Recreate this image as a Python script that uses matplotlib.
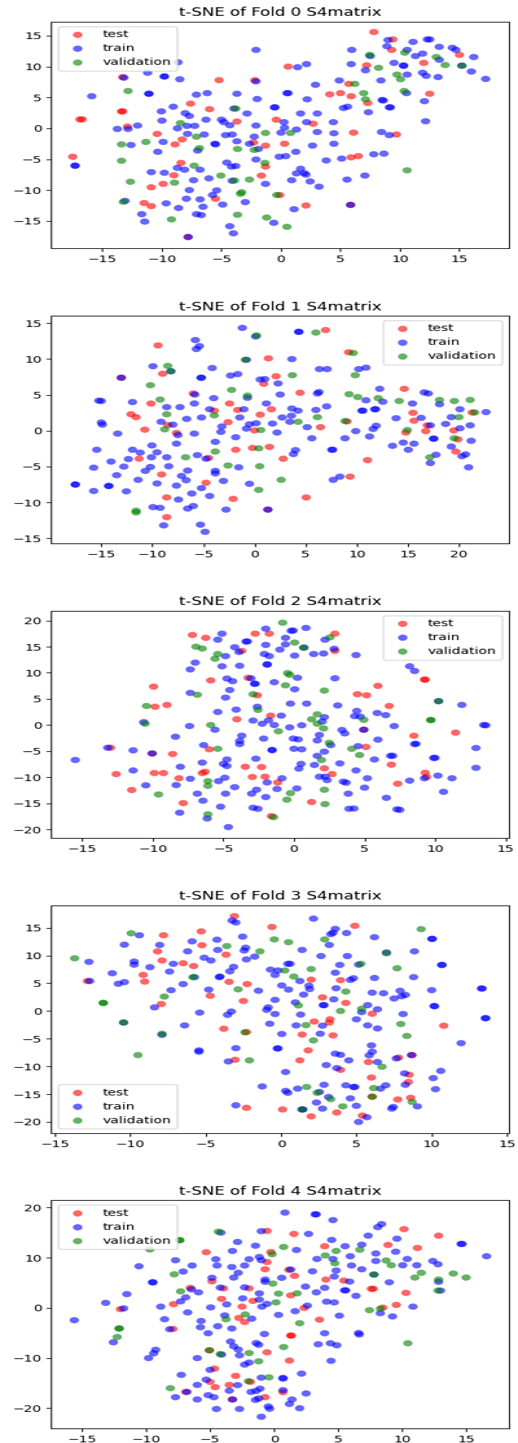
import matplotlib
matplotlib.use('Agg')
import matplotlib.pyplot as plt
import numpy as np
from PIL import Image

fold0_test = [(7.8,15.6),(9.4,14.4),(9.3,12.7),(15.0,11.9),(12.0,10.6),(7.2,10.2),(0.6,10.0),(-5.2,7.8),(-2.2,7.8),(-13.3,8.3),(5.7,7.2),(4.1,5.5),(5.0,5.7),(5.9,5.2),(12.5,5.6),(7.3,4.1),(-7.6,4.0),(-6.0,3.1),(-13.4,2.75),(-13.3,2.75),(-16.9,1.45),(-16.7,1.45),(-0.4,1.4),(-3.7,1.1),(2.7,0.75),(-12.9,0.3),(-10.4,-0.9),(6.1,-0.7),(9.7,-1.0),(-8.3,-1.8),(-8.9,-2.6),(-2.3,-2.3),(-1.3,-2.8),(0.3,-2.5),(-17.5,-4.6),(5.9,-4.7),(6.5,-4.5),(-8.4,-5.6),(-1.3,-6.2),(-1.65,-7.65),(-9.0,-7.6),(-9.9,-9.0),(-10.9,-9.55),(-0.1,-10.8),(-5.5,-11.4),(-11.5,-12.1),(-10.9,-12.6),(2.1,-12.5),(-7.8,-17.6),(5.85,-12.4)]
fold0_train = [(9.0,14.3),(8.9,13.3),(11.1,14.0),(12.3,14.4),(12.5,14.4),(13.3,13.2),(14.4,13.05),(14.7,12.7),(10.6,12.7),(5.95,12.7),(-2.1,12.7),(11.9,12.1),(11.3,11.7),(16.2,11.55),(7.5,11.7),(13.3,11.1),(9.5,10.6),(10.3,10.1),(10.3,10.2),(15.2,10.15),(5.9,10.4),(2.15,10.4),(1.4,9.9),(16.0,9.2),(7.1,9.4),(11.9,9.0),(12.2,8.5),(10.6,8.7),(13.2,8.3),(17.2,8.0),(-8.65,10.7),(-11.2,9.0),(-9.8,8.4),(-9.8,8.4),(-8.5,7.95),(-13.2,8.2),(8.4,7.75),(4.9,7.75),(-2.1,7.6),(2.9,7.05),(-15.9,5.2),(-11.1,5.6),(-11.1,5.6),(-7.1,5.45),(-6.2,5.7),(-3.7,5.6),(0.5,5.7),(0.6,5.7),(-2.0,4.75),(2.2,4.7),(10.55,5.7),(8.5,4.6),(8.6,4.5),(5.6,3.5),(5.25,3.3),(9.1,3.4),(9.2,3.4),(7.35,2.6),(12.05,4.4),(-9.05,3.5),(-10.05,2.75),(-0.55,3.4),(-0.5,3.4),(-3.95,3.2),(-2.85,2.4),(1.65,2.4),(3.05,2.4),(-8.05,2.45),(-7.7,2.0),(-10.0,1.25),(-6.3,1.4),(-5.0,1.4),(-4.8,1.0),(-4.3,0.5),(0.25,1.0),(2.15,1.0),(4.4,1.0),(12.15,1.15),(-8.7,0),(-7.9,0.4),(-7.25,0.4),(-12.05,0.45),(-13.75,-0.1),(-12.85,-0.1),(-2.1,0.45),(0.3,0.1),(1.3,-0.2),(0,-0.7),(3.05,-0.6),(4.45,-0.8),(8.45,-0.6),(9.1,-1.1),(-7.85,-0.9),(-6.45,-1.0),(-4.65,-1.1),(-4.1,-1.0),(-2.25,-1.35),(-9.9,-2.2),(-12.6,-2.7),(-3.7,-2.1),(-5.55,-2.5),(-5.5,-2.6),(-2.65,-2.5),(2.65,-2.8),(4.45,-2.5),(-1.9,-3.35),(-7.0,-3.6),(-10.35,-3.8),(1.25,-3.8),(-0.15,-4.6),(0.4,-4.5),(7.8,-4.2),(8.65,-4.1),(3.8,-5.2),(5.1,-4.9),(-2.1,-5.05),(-4.55,-5.55),(-4.15,-6.2),(-3.8,-6.1),(-17.3,-6.05),(-17.3,-6.05),(-8.7,-6.4),(-8.1,-6.7),(-6.8,-6.7),(-10.9,-7.1),(-9.8,-7.2),(1.65,-6.55),(1.3,-7.3),(1.95,-7.25),(2.1,-7.5),(7.05,-7.65),(-6.05,-8.1),(-7.35,-8.4),(-4.1,-8.5),(0.9,-8.4),(2.45,-8.6),(5.55,-8.3),(-1.3,-9.0),(3.2,-9.45),(-7.7,-10.0),(-5.4,-10.05),(-5.75,-10.8),(-7.95,-11.4),(-6.8,-11.5),(-13.1,-11.75),(-9.65,-12.15),(-4.9,-12.35),(-3.0,-11.95),(-8.6,-12.9),(-6.55,-12.7),(1.1,-13.1),(-11.7,-13.9),(-7.1,-13.9),(-6.7,-14.05),(-11.45,-15.1),(-0.6,-15.3),(-4.3,-15.85),(-4.0,-17.0),(-7.8,-17.6),(5.85,-12.4)]
fold0_val = [(7.45,11.9),(10.4,12.25),(13.05,11.55),(13.8,10.25),(15.2,10.15),(8.2,9.8),(9.75,8.7),(10.05,7.95),(6.2,7.2),(10.35,6.05),(6.95,5.7),(7.1,4.7),(-12.85,6.05),(-3.8,3.2),(-8.45,0.85),(-1.3,-0.75),(0.8,-0.75),(-7.1,-1.35),(-13.4,-2.6),(-11.35,-2.2),(-6.85,-3.2),(-3.65,-3.35),(-2.25,-3.5),(-13.4,-5.25),(-1.35,-5.6),(-7.3,-6.05),(-5.05,-7.65),(-12.65,-8.65),(-8.95,-8.8),(-3.9,-8.45),(-2.65,-8.3),(-3.3,-10.35),(-3.4,-10.6),(-0.35,-10.8),(-13.25,-11.9),(-3.65,-14.0),(-1.2,-14.45),(-9.2,-14.75),(0.5,-15.95),(10.6,-6.8)]

fold1_test = [(6.95,14.05),(-9.45,11.9),(9.2,10.95),(1.35,10.1),(-9.0,7.95),(-13.05,7.4),(2.1,7.6),(0.9,6.55),(-6.0,5.2),(4.45,5.3),(14.65,5.85),(-10.15,3.8),(-2.45,3.8),(-3.95,2.8),(-1.65,2.9),(1.65,3.0),(0.55,2.25),(-12.1,2.3),(-11.6,1.9),(15.5,2.5),(15.6,1.4),(21.3,2.55),(-2.6,1.2),(-8.5,0.8),(6.45,0.5),(-10.75,0.15),(0,0.05),(16.9,0.75),(9.05,1.3),(-7.65,-0.3),(14.8,-0.25),(16.75,-0.05),(19.5,0.05),(19.9,-1.2),(-0.2,-2.4),(1.45,-2.25),(-1.85,-2.65),(19.7,-2.9),(-11.3,-3.9),(-4.5,-3.8),(2.8,-3.9),(11.05,-4.1),(-9.1,-6.1),(-4.75,-7.25),(9.35,-6.4),(-8.6,-9.3),(-2.1,-9.5),(5.05,-9.3),(-8.6,-12.05),(1.3,-11.0)]
fold1_train = [(-1.2,14.35),(4.3,13.8),(4.35,13.8),(0.1,13.15),(-5.8,12.65),(-5.4,11.8),(-5.7,11.4),(3.65,10.0),(-0.8,9.9),(-9.95,9.0),(-4.15,8.75),(6.35,8.6),(7.1,8.6),(10.2,8.6),(10.9,8.8),(-8.2,8.3),(-2.35,7.7),(-1.65,7.9),(-5.25,7.4),(-5.2,7.4),(-13.05,7.4),(0.55,7.15),(1.0,7.2),(2.3,6.6),(12.25,5.85),(16.6,5.35),(17.0,5.2),(-15.25,4.2),(-15.0,4.15),(-5.85,5.05),(2.5,5.05),(-0.7,4.6),(-4.0,4.55),(6.15,5.2),(6.3,5.4),(-11.95,4.0),(10.9,4.25),(12.55,4.05),(-5.9,3.8),(1.15,3.8),(15.45,3.8),(18.1,3.7),(-8.6,3.3),(-7.3,3.3),(7.05,3.4),(-4.4,3.0),(-1.05,3.0),(3.65,3.1),(4.25,2.8),(6.0,2.9),(10.5,2.8),(10.6,2.8),(11.75,3.0),(11.85,3.0),(20.1,3.0),(22.65,2.6),(3.6,2.1),(2.7,1.85),(-1.45,1.85),(-5.2,1.85),(-6.65,1.65),(13.85,1.75),(16.3,1.8),(19.25,1.9),(-15.0,1.15),(-14.9,0.85),(-9.15,1.25),(-8.0,0.85),(0.15,1.05),(-0.5,0.9),(1.75,1.0),(3.45,1.25),(18.7,0.95),(21.1,0.75),(-3.2,0.6),(-0.8,0.3),(5.15,0.5),(11.9,0.7),(11.6,0.25),(17.2,0.75),(20.1,0.35),(-13.4,-0.4),(-7.5,-0.6),(-5.9,-0.4),(-3.3,-0.15),(2.2,-0.25),(9.9,-0.05),(-1.85,-0.9),(5.6,-1.05),(8.85,-1.05),(11.25,-0.8),(17.5,-1.1),(17.55,-1.1),(-3.85,-1.55),(-7.65,-1.8),(-10.05,-2.05),(21.2,-1.4),(14.55,-1.65),(15.6,-1.8),(13.5,-2.1),(19.25,-2.2),(-15.45,-2.65),(-11.95,-2.65),(-11.2,-3.05),(-9.55,-3.0),(4.0,-2.7),(3.8,-3.25),(7.55,-2.65),(7.65,-2.65),(15.05,-2.65),(-5.6,-3.4),(17.75,-3.35),(20.3,-3.55),(20.65,-3.3),(-14.05,-4.3),(-12.35,-3.95),(-10.1,-3.7),(-8.6,-3.7),(-4.75,-3.9),(17.2,-4.5),(-8.4,-4.95),(-12.8,-5.0),(-15.75,-5.15),(-10.2,-5.05),(-1.55,-5.1),(20.95,-5.1),(-10.7,-5.6),(-6.55,-5.55),(-3.85,-5.6),(-3.85,-5.95),(-13.5,-6.2),(-7.15,-6.3),(8.35,-6.4),(7.7,-6.85),(-11.4,-6.85),(-6.7,-6.9),(-3.05,-7.0),(-9.55,-7.35),(-17.55,-7.5),(-17.55,-7.5),(-14.3,-7.7),(-14.25,-7.7),(-7.65,-7.65),(-0.5,-7.4),(-5.2,-8.0),(-15.75,-8.4),(-12.55,-8.45),(-6.15,-8.75),(-4.4,-9.1),(-7.45,-9.6),(-9.95,-10.65),(-9.25,-10.75),(-6.0,-10.5),(-6.55,-10.85),(-2.8,-11.0),(1.3,-11.0),(-8.9,-13.2),(-5.3,-13.1),(-4.85,-14.1)]
fold1_val = [(0.2,13.3),(6.0,13.7),(-8.5,9.05),(9.65,10.85),(-0.9,9.9),(-8.2,8.3),(3.7,7.75),(9.85,7.75),(-10.2,6.35),(-2.25,5.7),(-0.7,4.9),(9.25,5.1),(10.1,4.7),(12.1,4.55),(14.15,4.15),(18.1,4.3),(19.55,4.15),(21.1,4.3),(-9.25,4.35),(-8.6,2.3),(-3.95,2.15),(6.15,1.9),(20.0,1.9),(21.55,2.55),(4.25,1.25),(8.85,1.35),(-8.8,0.2),(0.6,0.1),(14.95,0.1),(19.55,-1.05),(-3.85,-2.9),(0.4,-2.45),(-6.75,-3.7),(17.15,-3.7),(-2.6,-4.85),(0.5,-4.95),(2.6,-6.85),(0.4,-8.25),(-11.6,-11.15),(-11.6,-11.4)]

fold2_test = [(-7.2,17.25),(-6.25,16.7),(-2.75,17.5),(-1.75,17.5),(2.9,17.5),(-3.7,14.2),(2.9,14.2),(-3.25,9.05),(-5.9,8.55),(9.25,8.7),(9.3,8.7),(-9.95,7.35),(5.95,7.5),(-2.6,5.7),(4.5,5.9),(5.15,5.7),(-9.85,3.5),(-9.0,3.85),(6.75,3.65),(-4.05,1.1),(-1.65,1.8),(11.45,-1.45),(8.5,-2.05),(-13.0,-4.35),(-10.05,-5.45),(-6.0,-4.65),(-8.6,-5.55),(5.1,-4.2),(-3.45,-8.0),(-2.3,-8.05),(2.15,-8.3),(6.9,-7.6),(-12.6,-9.4),(-9.9,-9.2),(-9.25,-9.2),(-6.5,-9.2),(-6.3,-8.95),(-8.15,-10.2),(-2.95,-9.95),(-2.05,-9.9),(2.7,-9.4),(9.3,-9.15),(9.4,-9.95),(-1.15,-11.0),(7.35,-11.25),(-11.5,-12.45),(-7.85,-14.95),(1.25,-14.75),(-1.6,-17.45),(4.95,-0.9)]
fold2_train = [(-2.0,18.45),(-0.2,18.05),(-0.05,18.1),(0.85,18.6),(-5.1,17.5),(-5.4,16.35),(-0.6,16.7),(-3.4,16.0),(-3.3,16.0),(2.2,16.35),(-2.0,15.35),(-0.6,15.45),(-4.2,14.9),(-1.0,14.45),(2.85,14.6),(0.7,14.8),(-3.9,14.0),(-2.1,13.6),(-1.75,13.2),(-4.85,13.2),(0.05,13.3),(1.4,13.6),(2.1,13.7),(4.4,13.4),(-7.0,11.95),(-5.1,11.25),(-3.85,11.35),(-1.9,11.55),(-1.9,11.65),(-7.35,10.65),(8.2,11.25),(8.55,10.35),(-4.75,8.9),(-4.35,8.4),(0.25,9.05),(2.9,8.95),(-3.05,8.95),(-2.8,7.9),(-2.75,7.9),(-1.4,8.2),(-4.55,6.7),(0.05,6.85),(-7.35,6.15),(-4.85,5.25),(-0.25,4.1),(0.9,4.1),(3.1,3.75),(10.25,4.55),(11.9,3.85),(-2.6,3.5),(-4.1,2.95),(-5.4,2.5),(4.45,2.7),(5.9,2.3),(6.5,1.9),(4.3,1.7),(4.7,1.6),(-0.9,1.8),(-1.8,0.9),(-2.9,0.85),(2.15,1.5),(2.0,0.65),(-2.25,0.25),(-1.4,0),(-10.65,0.55),(-7.4,-0.2),(-0.3,-0.45),(0.55,-0.05),(7.1,-0.2),(13.45,0),(13.6,-0.05),(-5.6,-0.9),(3.4,-0.95),(3.6,-1.6),(4.95,-0.9),(-3.7,-2.05),(1.8,-1.9),(-8.4,-2.25),(-2.15,-2.6),(-0.05,-2.6),(0.3,-2.75),(1.65,-2.95),(5.95,-2.8),(-3.85,-3.05),(-3.85,-3.65),(-6.4,-3.85),(2.6,-3.85),(4.55,-4.05),(8.55,-3.65),(8.65,-3.6),(-13.2,-4.35),(-11.4,-4.85),(12.9,-4.4),(-1.55,-4.8),(-1.55,-4.8),(0,-4.55),(0.55,-4.65),(2.15,-5.1),(1.65,-5.9),(6.85,-5.9),(7.0,-5.9),(-10.05,-5.45),(-15.5,-6.7),(-4.75,-6.6),(-2.7,-6.45),(9.9,-6.3),(10.0,-6.3),(5.7,-6.6),(-6.5,-7.2),(-5.0,-7.45),(-4.75,-7.85),(0.5,-7.45),(1.45,-7.65),(3.25,-7.35),(-8.05,-8.0),(0.35,-8.35),(4.4,-8.7),(12.9,-8.2),(-11.4,-8.7),(-4.9,-10.1),(-5.35,-10.75),(-7.35,-10.3),(-0.85,-10.2),(1.8,-9.9),(2.2,-9.9),(2.35,-10.55),(5.2,-10.2),(9.25,-10.2),(10.2,-9.7),(11.2,-10.2),(3.5,-10.85),(3.7,-11.05),(-1.9,-11.0),(-10.5,-11.55),(-8.35,-11.5),(8.2,-10.65),(-4.2,-11.9),(5.0,-12.0),(-2.65,-12.4),(-1.2,-12.25),(0.2,-12.15),(10.6,-12.8),(-6.85,-13.15),(-4.85,-13.15),(-3.0,-13.15),(3.85,-13.15),(-2.0,-13.8),(6.55,-13.95),(-6.45,-14.5),(-5.2,-15.65),(-2.9,-15.85),(-2.55,-16.05),(3.9,-16.05),(4.25,-16.0),(7.3,-16.15),(7.5,-16.25),(-8.1,-16.8),(-6.15,-17.9),(-4.65,-19.55)]
fold2_val = [(-0.8,19.6),(2.55,16.8),(0.05,15.8),(0.7,14.85),(-6.95,15.0),(-6.5,14.65),(-5.4,13.6),(-5.6,12.7),(-0.45,9.95),(-0.3,9.6),(-0.6,7.6),(2.15,6.6),(-6.85,5.8),(-2.9,5.9),(-10.45,3.65),(10.25,4.6),(-2.55,2.9),(1.65,2.05),(1.25,1.1),(4.95,1.0),(9.7,0.95),(9.7,0.95),(1.65,0.25),(-10.55,0.25),(-5.9,0),(2.1,-0.65),(-1.1,-1.2),(2.5,-3.4),(-5.4,-4.55),(4.1,-4.55),(4.65,-5.75),(1.95,-6.7),(-6.1,-10.75),(-6.1,-11.65),(2.15,-12.4),(-9.6,-13.3),(-0.25,-13.05),(-0.5,-14.3),(2.2,-15.15),(-6.1,-17.1),(-1.45,-17.65)]

fold3_test = [(-3.1,17.1),(4.9,15.35),(-0.6,15.15),(-5.3,14.35),(-7.8,13.65),(-5.25,11.85),(-8.2,10.75),(-3.65,10.15),(-7.9,9.1),(-6.5,8.6),(-5.8,8.1),(-9.15,6.5),(-9.05,5.3),(-12.85,5.4),(2.0,5.65),(3.95,5.55),(-3.45,5.25),(-2.25,4.85),(2.75,2.45),(-2.5,1.8),(4.3,1.45),(-7.95,1.25),(6.05,-0.5),(3.25,-1.5),(3.2,-2.1),(2.2,-1.9),(10.8,-2.65),(-3.8,-3.2),(-2.3,-3.8),(1.4,-4.25),(3.45,-4.4),(1.8,-7.1),(-3.05,-8.8),(1.25,-8.9),(7.8,-8.4),(8.7,-7.95),(5.8,-9.2),(3.95,-10.6),(8.5,-11.5),(6.0,-12.0),(8.45,-12.8),(6.05,-15.45),(8.6,-15.65),(7.75,-15.95),(-2.3,-17.45),(0.1,-17.75),(3.7,-18.3),(2.0,-19.0),(5.4,-18.85),(-4.7,2.75)]
fold3_train = [(2.15,16.65),(-3.25,16.3),(-3.0,15.95),(3.6,14.8),(3.45,14.1),(3.3,13.85),(4.35,14.05),(-9.4,13.65),(-10.4,11.95),(-8.05,11.9),(-5.9,12.55),(-4.25,12.85),(-2.55,13.4),(6.2,13.3),(10.0,13.0),(10.05,13.0),(3.2,11.9),(-6.2,10.75),(-4.2,11.0),(-2.35,11.4),(-2.45,10.9),(1.4,11.0),(8.85,10.75),(7.0,10.55),(-5.1,9.6),(-4.65,9.1),(-2.3,9.3),(-1.75,9.8),(2.65,9.9),(4.4,9.9),(-12.75,8.85),(-9.75,8.9),(-9.75,8.35),(-7.15,8.5),(-8.7,7.9),(0.45,8.5),(0.6,8.5),(3.9,8.3),(5.15,8.35),(10.65,8.3),(10.7,8.3),(-3.15,7.95),(-3.4,7.15),(-7.4,7.1),(-11.2,6.8),(-0.7,7.45),(-0.2,7.3),(3.6,6.9),(-0.4,6.5),(-4.05,6.2),(-4.1,6.1),(-5.75,6.1),(6.2,5.95),(8.8,6.1),(-12.7,5.4),(-10.4,5.2),(-10.8,4.9),(-6.5,4.85),(1.25,5.4),(4.8,5.9),(4.6,5.6),(0.05,4.6),(1.85,4.55),(1.9,3.95),(-7.3,3.75),(-4.8,3.85),(-1.5,3.65),(0.5,3.85),(3.65,4.1),(10.0,3.75),(13.3,4.05),(13.35,4.05),(6.05,3.3),(6.8,3.2),(7.9,3.65),(8.25,2.9),(8.0,2.65),(1.5,2.95),(7.5,2.25),(3.5,2.1),(-0.4,2.0),(0.95,1.55),(-8.4,0.65),(2.8,1.05),(2.85,1.05),(5.75,1.05),(10.15,0.9),(10.2,0.85),(-0.85,0.65),(-0.95,0.2),(6.4,0.3),(-5.4,-0.3),(-3.3,-0.1),(-3.55,-0.7),(-0.4,-0.55),(1.3,-0.65),(5.35,-0.2),(8.1,-0.55),(13.55,-1.3),(13.6,-1.3),(5.0,-1.5),(-0.75,-2.3),(-6.4,-2.6),(1.0,-2.6),(2.75,-2.65),(5.75,-2.6),(6.4,-3.15),(0.05,-4.15),(2.6,-4.1),(-7.9,-4.3),(11.95,-5.8),(6.0,-6.2),(-10.45,-2.1),(-3.0,-6.7),(-5.45,-7.1),(-5.45,-7.35),(-0.25,-6.75),(-0.2,-6.75),(6.05,-7.35),(5.85,-8.0),(3.6,-7.7),(3.95,-7.9),(8.65,-7.95),(7.65,-8.55),(-3.5,-9.1),(4.5,-8.9),(6.4,-9.2),(3.0,-9.75),(3.7,-10.3),(0.3,-11.0),(8.2,-11.25),(10.6,-10.8),(10.1,-12.1),(-1.25,-13.6),(2.85,-13.3),(4.3,-13.4),(4.8,-13.7),(4.9,-13.7),(6.95,-13.4),(8.25,-13.3),(6.6,-14.0),(1.1,-14.0),(10.25,-14.1),(0.3,-14.4),(0.45,-14.75),(2.55,-14.6),(3.15,-15.5),(4.6,-15.75),(2.35,-16.5),(-3.0,-17.0),(5.0,-17.1),(9.05,-17.2),(7.45,-17.3),(7.35,-17.6),(2.75,-17.6),(1.4,-17.75),(1.45,-17.75),(5.7,-19.15),(5.15,-20.0)]
fold3_val = [(-9.95,14.0),(9.3,14.75),(-3.6,11.7),(-0.45,12.9),(0.5,12.4),(2.9,12.9),(-13.7,9.5),(-1.4,10.75),(7.0,10.4),(5.3,8.5),(2.0,7.55),(0.25,7.3),(7.7,7.7),(0.85,6.2),(-5.85,6.1),(-2.85,3.9),(4.3,3.5),(-7.75,2.6),(-11.8,1.45),(-11.8,1.45),(1.15,1.0),(5.35,0.4),(3.95,0),(-10.45,-2.05),(1.65,-2.55),(7.95,-2.35),(-7.9,-4.1),(-2.4,-3.85),(8.35,-4.5),(2.15,-5.3),(-9.5,-7.95),(-2.1,-8.9),(6.7,-10.05),(1.7,-13.7),(6.15,-13.9),(2.4,-14.75),(3.3,-15.9),(6.05,-15.45),(4.1,-17.2),(8.7,-16.4),(1.4,-17.75)]

fold4_test = [(10.15,15.7),(-0.55,15.35),(1.55,14.75),(12.85,14.4),(8.9,12.55),(3.95,12.3),(11.2,11.95),(-5.3,11.1),(-0.25,11.15),(-0.55,9.15),(-0.7,7.7),(1.15,7.6),(1.6,6.4),(4.05,5.65),(5.45,5.45),(-4.85,5.3),(-6.55,4.0),(-3.95,3.9),(-1.95,3.9),(7.6,3.8),(7.75,3.8),(10.3,3.0),(1.3,2.5),(-4.1,1.8),(-1.65,1.4),(-7.85,0.75),(-2.5,0.25),(9.55,0.6),(2.35,0),(8.5,0.05),(-12.0,-0.25),(3.55,-2.35),(-2.75,-2.0),(-2.3,-2.8),(-7.9,-4.2),(1.3,-5.5),(1.35,-5.55),(-0.55,-8.85),(-5.05,-8.45),(1.2,-10.5),(-4.65,-12.1),(-3.0,-13.55),(-5.0,-14.75),(-4.6,-15.8),(-3.5,-15.35),(-1.85,-14.75),(-6.9,-16.75),(-0.7,-17.8),(0.7,-16.8),(-3.25,-18.25)]
fold4_train = [(0.85,19.0),(3.2,18.65),(3.3,18.65),(4.6,17.5),(8.4,16.7),(8.1,16.1),(-4.15,15.0),(-1.0,15.3),(2.7,14.75),(7.35,14.4),(9.6,13.8),(4.5,13.55),(-2.85,13.15),(14.6,12.75),(14.7,12.75),(6.85,12.6),(-1.45,12.4),(5.55,12.3),(-3.25,11.35),(1.75,11.55),(9.5,11.2),(7.95,10.85),(-1.15,10.15),(5.95,10.3),(-4.55,9.7),(-1.95,9.7),(3.35,9.75),(4.6,9.75),(10.4,9.75),(-1.0,9.5),(16.6,10.3),(-7.7,9.5),(7.95,9.35),(12.4,9.35),(12.8,8.7),(-10.55,8.3),(-6.4,8.45),(-4.45,8.45),(-3.3,8.15),(-2.3,8.45),(6.05,8.45),(10.05,8.5),(11.15,8.5),(6.85,7.7),(-7.1,7.25),(-2.8,7.0),(1.3,7.65),(3.0,7.3),(4.85,7.45),(-3.15,6.05),(-4.85,6.0),(4.7,6.25),(0.6,6.0),(-0.7,5.65),(-0.7,5.2),(-9.5,5.1),(-9.45,5.1),(5.9,5.25),(9.0,5.1),(12.85,5.2),(7.8,6.65),(-2.3,4.1),(-4.2,4.05),(-6.45,3.7),(-5.9,3.1),(2.45,4.25),(3.95,4.0),(5.5,3.5),(5.6,3.5),(13.0,3.45),(-11.5,2.75),(-1.15,2.9),(3.3,3.1),(6.4,2.4),(-6.9,2.1),(-7.3,1.3),(-2.45,1.9),(-1.15,1.65),(4.1,1.25),(4.7,1.1),(-13.15,1.0),(-3.7,0.7),(-0.55,0.8),(-0.95,0.25),(2.6,0.45),(10.85,0.25),(-8.85,0.25),(-4.95,0.1),(-11.75,-0.1),(1.65,-0.65),(-6.75,-0.9),(0.35,-1.4),(-3.85,-1.5),(5.1,-1.55),(8.3,-1.05),(9.25,-1.7),(-15.6,-2.45),(-8.55,-2.25),(-5.7,-2.6),(-1.75,-2.15),(-5.75,-3.85),(-4.4,-3.65),(-3.3,-4.1),(-8.15,-4.25),(-5.15,-5.05),(3.95,-5.05),(-0.75,-5.2),(6.6,-5.0),(6.65,-5.3),(-3.4,-6.7),(-12.55,-6.85),(-1.4,-7.0),(-1.2,-7.35),(3.45,-7.25),(4.4,-7.05),(4.9,-7.45),(-3.15,-7.65),(-2.8,-8.3),(-9.25,-8.35),(-9.4,-9.05),(-9.8,-10.0),(-2.7,-9.45),(-4.1,-9.3),(-6.0,-10.0),(4.45,-10.55),(-1.95,-10.9),(-2.3,-11.3),(-5.0,-12.35),(-7.25,-13.35),(2.15,-13.1),(-1.0,-13.9),(0.7,-13.95),(0.7,-14.1),(-5.3,-14.3),(-6.0,-15.35),(-2.85,-15.4),(-1.1,-16.1),(-3.5,-16.5),(-1.4,-16.55),(-1.8,-16.75),(0.7,-16.4),(2.5,-17.05),(-6.8,-16.75),(-5.15,-17.4),(-4.7,-17.8),(-7.7,-17.8),(-1.2,-18.05),(-1.45,-18.35),(1.4,-18.25),(-6.0,-18.25),(-3.25,-18.25),(1.2,-19.15),(-0.45,-19.65),(-0.35,-20.1),(2.0,-20.0),(-4.5,-20.15),(-2.7,-20.15),(-1.0,-21.7)]
fold4_val = [(-4.35,15.2),(-7.4,13.5),(-7.35,13.5),(0.75,12.15),(-9.7,11.65),(-0.15,10.7),(4.0,10.45),(4.85,11.35),(6.7,11.6),(8.75,9.45),(4.75,8.9),(9.15,8.5),(-7.8,6.7),(7.8,6.65),(11.5,7.0),(11.0,6.05),(14.0,6.85),(15.0,6.05),(12.85,5.65),(-0.1,4.85),(-7.3,3.3),(0.35,2.85),(1.8,2.9),(12.8,3.45),(0.15,1.1),(7.45,-0.45),(8.3,-0.15),(-3.75,-2.25),(-2.25,-1.3),(2.0,-3.05),(-12.1,-4.1),(-12.1,-4.1),(-12.25,-5.8),(0.75,-7.8),(-5.05,-8.45),(-4.2,-9.2),(-1.95,-9.0),(-1.2,-10.65),(-0.4,-13.85),(-2.0,-14.6),(10.45,-7.05),(-8.1,-16.0)]

folds = [(fold0_test, fold0_train, fold0_val),
         (fold1_test, fold1_train, fold1_val),
         (fold2_test, fold2_train, fold2_val),
         (fold3_test, fold3_train, fold3_val),
         (fold4_test, fold4_train, fold4_val)]
xlims = [(-19.3, 19.16), (-19.9, 24.9), (-17.2, 15.24), (-15.25, 15.13), (-17.4, 18.35)]
ylims = [(-19.43, 17.27), (-15.7, 16.05), (-21.7, 21.9), (-22.05, 19.05), (-24.0, 21.45)]
ysteps = [5, 5, 5, 5, 10]
legend_locs = ['upper left', 'upper right', 'upper right', 'lower left', 'upper left']
labels = ['test', 'train', 'validation']
colors = ['red', 'blue', 'green']
# top and bottom of each panel, as a share of the figure height
tops = [21.7, 315.7, 610.7, 905.3, 1200.3]
bottoms = [248.3, 543.3, 838.3, 1133.3, 1428.3]

# drawn tall, then squeezed to the final size
fig = plt.figure(figsize=(5.18, 21.8), dpi=100)
for i in range(5):
    ax = fig.add_axes([51.3/518, 1 - bottoms[i]/1443, (509 - 51.3)/518, (bottoms[i] - tops[i])/1443])
    for pts, label, color in zip(folds[i], labels, colors):
        pts = np.array(pts)
        ax.scatter(pts[:, 0], pts[:, 1], c=color, label=label, alpha=0.6, s=46, edgecolors='none')
    ax.set_xlim(xlims[i])
    ax.set_ylim(ylims[i])
    ax.xaxis.set_major_locator(plt.MultipleLocator(5))
    ax.yaxis.set_major_locator(plt.MultipleLocator(ysteps[i]))
    ax.set_title('t-SNE of Fold %d S4matrix' % i)
    ax.legend(loc=legend_locs[i])

fig.savefig('out.png', dpi=100)
# soften a little, the reference is blurry
im = Image.open('out.png').convert('RGB').resize((400, 1443), Image.BICUBIC)
im.resize((518, 1443), Image.BICUBIC).save('out.png')
